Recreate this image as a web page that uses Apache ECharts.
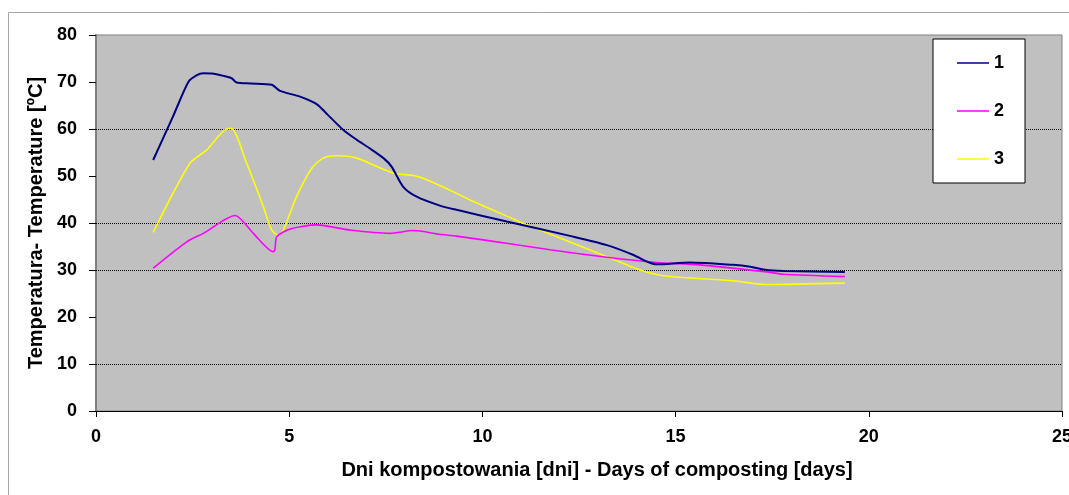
<!DOCTYPE html>
<html>
<head>
<meta charset="utf-8">
<script src="https://cdn.jsdelivr.net/npm/echarts@6/dist/echarts.min.js"></script>
<style>html,body{margin:0;padding:0;background:#fff;}#chart{width:1069px;height:495px;}</style>
</head>
<body>
<div id="chart"></div>
<script>
// Series 1 (navy)
const days1 = [1.48, 2.0, 2.39, 2.6, 2.78, 3.0, 3.30, 3.51, 3.64, 4.0, 4.55, 4.76, 5.28, 5.71, 6.0, 6.40, 6.75, 7.1, 7.44, 7.65, 7.95, 8.30, 8.90, 9.33, 10.63, 12.35, 13.22, 13.91, 14.25, 14.51, 15.37, 16.49, 16.93, 17.36, 17.79, 19.38];
const temp1 = [53.4, 62.8, 70.0, 71.4, 71.85, 71.8, 71.3, 70.8, 69.9, 69.7, 69.4, 68.1, 66.9, 65.3, 63.0, 59.8, 57.7, 55.8, 53.8, 52.0, 47.7, 45.6, 43.7, 42.8, 40.3, 37.1, 35.3, 33.2, 31.8, 31.2, 31.6, 31.1, 30.7, 30.0, 29.8, 29.6];
// Series 2 (magenta)
const days2 = [1.48, 2.35, 2.78, 3.60, 4.07, 4.59, 4.63, 4.68, 5.02, 5.71, 6.57, 7.61, 8.21, 8.90, 9.33, 10.71, 11.75, 13.22, 14.51, 15.63, 17.36, 17.79, 19.38];
const temp2 = [30.4, 36.0, 37.8, 41.6, 37.8, 33.9, 34.3, 37.1, 38.7, 39.6, 38.5, 37.8, 38.4, 37.6, 37.2, 35.6, 34.3, 32.7, 31.6, 31.1, 29.6, 29.1, 28.6];
// Series 3 (yellow)
const days3 = [1.48, 2.43, 2.86, 3.42, 3.51, 3.90, 4.33, 4.55, 4.72, 4.85, 5.19, 5.58, 5.88, 6.23, 6.75, 7.27, 7.70, 8.21, 8.47, 9.33, 9.68, 10.71, 11.06, 12.35, 13.22, 14.08, 14.60, 15.20, 16.49, 17.36, 19.38];
const temp3 = [38.0, 52.7, 55.5, 60.1, 60.1, 52.7, 43.5, 38.5, 37.4, 38.5, 45.6, 51.6, 53.8, 54.3, 53.8, 52.0, 50.6, 50.1, 49.5, 46.3, 44.9, 41.2, 39.9, 35.7, 32.8, 30.0, 28.9, 28.4, 27.7, 26.9, 27.2];

const seriesNames = ['1', '2', '3'];
const seriesColors = ['#000080', '#ff00ff', '#ffff00'];
const xTitle = 'Dni kompostowania [dni] - Days of composting [days]';
const yTitle = 'Temperatura- Temperature [ºC]';
const gridValues = [10, 30, 40, 60];

const zip = (xs, ys) => xs.map((x, i) => [x, ys[i]]);
const datasets = [zip(days1, temp1), zip(days2, temp2), zip(days3, temp3)];

const FONT = '"Liberation Sans", Arial, sans-serif';
const chart = echarts.init(document.getElementById('chart'), null, {renderer: 'canvas'});
chart.setOption({
  animation: false,
  backgroundColor: '#ffffff',
  graphic: [{
    type: 'rect', silent: true, z: -10,
    shape: {x: 8.5, y: 12.5, width: 1100, height: 520},
    style: {fill: 'none', stroke: '#a6a6a6', lineWidth: 1}
  }],
  grid: {
    left: 96, top: 35, right: 7, bottom: 84,
    outerBoundsMode: 'none', containLabel: false,
    show: true, backgroundColor: '#c0c0c0', borderColor: '#808080', borderWidth: 1
  },
  legend: {
    orient: 'vertical', left: 933, top: 39,
    data: seriesNames,
    icon: 'rect', itemWidth: 32, itemHeight: 1.5, itemGap: 28,
    padding: [14, 21, 14, 24],
    backgroundColor: '#ffffff', borderColor: '#000000', borderWidth: 1,
    textStyle: {fontFamily: FONT, fontWeight: 'bold', fontSize: 18, color: '#000', lineHeight: 20}
  },
  xAxis: {
    type: 'value', min: 0, max: 25, interval: 5,
    name: xTitle, nameLocation: 'middle', nameGap: 49,
    nameTextStyle: {fontFamily: FONT, fontWeight: 'bold', fontSize: 20, color: '#000', padding: [0, 0, 0, 36]},
    axisLine: {show: true, lineStyle: {color: '#000', width: 1}},
    axisTick: {show: true, inside: false, length: 6, lineStyle: {color: '#000'}},
    axisLabel: {fontFamily: FONT, fontWeight: 'bold', fontSize: 18, color: '#000', margin: 17},
    splitLine: {show: false}
  },
  yAxis: {
    type: 'value', min: 0, max: 80, interval: 10,
    name: yTitle, nameLocation: 'middle', nameGap: 48, nameRotate: 90,
    nameTextStyle: {fontFamily: FONT, fontWeight: 'bold', fontSize: 20, color: '#000'},
    axisLine: {show: true, lineStyle: {color: '#808080', width: 2}},
    axisTick: {show: true, inside: false, length: 7, lineStyle: {color: '#000'}},
    axisLabel: {fontFamily: FONT, fontWeight: 'bold', fontSize: 18, color: '#000', margin: 19},
    splitLine: {show: false}
  },
  series: datasets.map((d, i) => ({
    name: seriesNames[i],
    type: 'line',
    data: d,
    smooth: 0.25,
    showSymbol: false,
    symbol: 'none',
    color: seriesColors[i],
    lineStyle: {color: seriesColors[i], width: i === 0 ? 2 : 1.6},
    z: 3 - i,
    markLine: i === 0 ? {
      silent: true, symbol: ['none', 'none'], label: {show: false},
      lineStyle: {color: '#000', type: 'dotted', width: 1}, z: 1,
      data: gridValues.map(v => ({yAxis: v}))
    } : undefined
  }))
});
</script>
</body>
</html>
